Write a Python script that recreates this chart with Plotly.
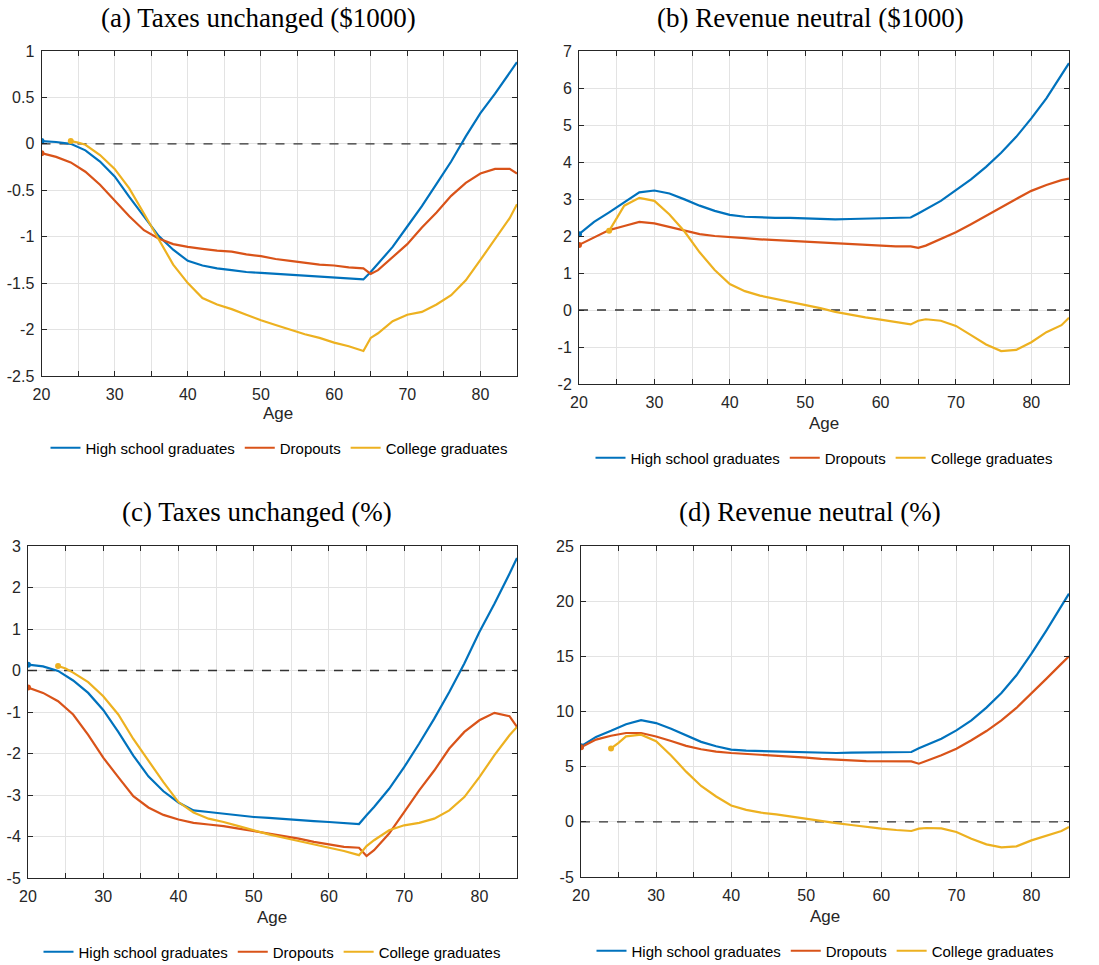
import plotly.graph_objects as go

# ---------------- data ----------------
AGES = [20, 22, 24, 26, 28, 30, 32, 34, 36, 38, 40, 42, 44, 46, 48, 50, 52, 54, 56, 58,
        60, 62, 64, 65, 66, 68, 70, 72, 74, 76, 78, 80, 82, 84, 85]
AGES_COL = [24, 25, 26, 28, 30, 32, 34, 36, 38, 40, 42, 44, 46, 48, 50, 52, 54, 56, 58,
            60, 62, 64, 65, 66, 68, 70, 72, 74, 76, 78, 80, 82, 84, 85]

# (a) Taxes unchanged ($1000)
HS_A = [0.03, 0.02, 0.0, -0.07, -0.19, -0.35, -0.57, -0.78, -0.99, -1.14, -1.26, -1.31, -1.34,
        -1.36, -1.38, -1.39, -1.40, -1.41, -1.42, -1.43, -1.44, -1.45, -1.46, -1.38, -1.29,
        -1.11, -0.89, -0.67, -0.43, -0.19, 0.08, 0.33, 0.54, 0.77, 0.88]
DO_A = [-0.10, -0.14, -0.20, -0.30, -0.44, -0.61, -0.78, -0.93, -1.02, -1.08, -1.11, -1.13,
        -1.15, -1.16, -1.19, -1.21, -1.24, -1.26, -1.28, -1.30, -1.31, -1.33, -1.34, -1.40,
        -1.36, -1.22, -1.08, -0.90, -0.74, -0.56, -0.42, -0.32, -0.27, -0.27, -0.32]
COL_A = [0.03, 0.015, -0.01, -0.12, -0.27, -0.48, -0.75, -1.03, -1.30, -1.50, -1.66, -1.73,
         -1.78, -1.84, -1.90, -1.95, -2.00, -2.05, -2.09, -2.14, -2.18, -2.23, -2.09, -2.04,
         -1.91, -1.84, -1.81, -1.73, -1.63, -1.47, -1.25, -1.02, -0.80, -0.65]

# (b) Revenue neutral ($1000)
HS_B = [2.05, 2.38, 2.64, 2.91, 3.18, 3.23, 3.15, 2.99, 2.82, 2.68, 2.57, 2.52, 2.50, 2.49,
        2.49, 2.47, 2.45, 2.45, 2.46, 2.47, 2.49, 2.50, 2.50, 2.61, 2.72, 2.95, 3.24, 3.53,
        3.87, 4.25, 4.68, 5.18, 5.72, 6.35, 6.67]
DO_B = [1.76, 1.96, 2.16, 2.27, 2.38, 2.34, 2.24, 2.13, 2.05, 2.00, 1.96, 1.94, 1.91, 1.89,
        1.86, 1.85, 1.81, 1.79, 1.77, 1.75, 1.73, 1.72, 1.72, 1.68, 1.74, 1.91, 2.10, 2.32,
        2.55, 2.79, 3.00, 3.22, 3.38, 3.51, 3.55]
COL_B = [2.14, 2.50, 2.82, 3.03, 2.95, 2.58, 2.12, 1.56, 1.08, 0.70, 0.51, 0.39, 0.31, 0.21,
         0.14, 0.05, -0.05, -0.13, -0.20, -0.26, -0.32, -0.39, -0.29, -0.25, -0.29, -0.43,
         -0.68, -0.93, -1.11, -1.08, -0.87, -0.60, -0.41, -0.21]

# (c) Taxes unchanged (%)
HS_C = [0.14, 0.10, -0.01, -0.24, -0.54, -0.95, -1.48, -2.05, -2.55, -2.91, -3.18, -3.37,
        -3.41, -3.45, -3.49, -3.53, -3.55, -3.58, -3.61, -3.63, -3.65, -3.68, -3.70, -3.49,
        -3.29, -2.85, -2.33, -1.76, -1.16, -0.52, 0.17, 0.93, 1.61, 2.33, 2.71]
DO_C = [-0.41, -0.54, -0.74, -1.06, -1.55, -2.10, -2.57, -3.03, -3.30, -3.48, -3.59, -3.67,
        -3.71, -3.75, -3.81, -3.87, -3.93, -3.99, -4.05, -4.13, -4.19, -4.25, -4.27, -4.47,
        -4.33, -3.93, -3.41, -2.89, -2.41, -1.88, -1.48, -1.20, -1.02, -1.10, -1.36]
COL_C = [0.11, 0.05, -0.05, -0.28, -0.62, -1.06, -1.65, -2.18, -2.69, -3.17, -3.42, -3.57,
         -3.65, -3.75, -3.85, -3.95, -4.03, -4.11, -4.20, -4.27, -4.35, -4.45, -4.23, -4.09,
         -3.85, -3.73, -3.67, -3.57, -3.37, -3.05, -2.57, -2.04, -1.56, -1.36]

# (d) Revenue neutral (%)
HS_D = [6.84, 7.70, 8.25, 8.85, 9.22, 8.95, 8.43, 7.83, 7.25, 6.85, 6.55, 6.45, 6.41, 6.39,
        6.36, 6.30, 6.27, 6.24, 6.27, 6.30, 6.30, 6.33, 6.33, 6.66, 6.93, 7.54, 8.29, 9.20,
        10.35, 11.68, 13.28, 15.24, 17.36, 19.62, 20.68]
DO_D = [6.75, 7.45, 7.80, 8.05, 8.05, 7.74, 7.32, 6.88, 6.58, 6.36, 6.24, 6.16, 6.09, 6.00,
        5.91, 5.82, 5.70, 5.61, 5.57, 5.51, 5.48, 5.45, 5.48, 5.27, 5.51, 6.03, 6.63, 7.39,
        8.23, 9.20, 10.32, 11.62, 12.98, 14.34, 15.00]
COL_D = [6.65, 7.15, 7.75, 7.90, 7.30, 6.02, 4.55, 3.25, 2.30, 1.48, 1.08, 0.83, 0.68, 0.47,
         0.29, 0.11, -0.11, -0.29, -0.47, -0.62, -0.74, -0.83, -0.62, -0.56, -0.59, -0.92,
         -1.53, -2.04, -2.31, -2.22, -1.68, -1.23, -0.83, -0.47]

SERIES_NAMES = ["High school graduates", "Dropouts", "College graduates"]
TITLES = ["(a) Taxes unchanged ($1000)", "(b) Revenue neutral ($1000)",
          "(c) Taxes unchanged (%)", "(d) Revenue neutral (%)"]
X_TICKS = [20, 25, 30, 35, 40, 45, 50, 55, 60, 65, 70, 75, 80, 85]
X_TICKTEXT = ["20", "", "30", "", "40", "", "50", "", "60", "", "70", "", "80", ""]
Y_TICKS_A = [-2.5, -2, -1.5, -1, -0.5, 0, 0.5, 1]
Y_TEXT_A = ["-2.5", "-2", "-1.5", "-1", "-0.5", "0", "0.5", "1"]
Y_TICKS_B = [-2, -1, 0, 1, 2, 3, 4, 5, 6, 7]
Y_TEXT_B = ["-2", "-1", "0", "1", "2", "3", "4", "5", "6", "7"]
Y_TICKS_C = [-5, -4, -3, -2, -1, 0, 1, 2, 3]
Y_TEXT_C = ["-5", "-4", "-3", "-2", "-1", "0", "1", "2", "3"]
Y_TICKS_D = [-5, 0, 5, 10, 15, 20, 25]
Y_TEXT_D = ["-5", "0", "5", "10", "15", "20", "25"]
X_RANGE = [20, 85]

COLORS = ["#0072BD", "#D95319", "#EDB120"]
W, H = 1099, 965

panels = [
    dict(data=[HS_A, DO_A, COL_A], yt=Y_TICKS_A, ytx=Y_TEXT_A,
         box=(41.5, 517, 51, 376), title=(258, 18), age=(278, 413), leg=(279, 448)),
    dict(data=[HS_B, DO_B, COL_B], yt=Y_TICKS_B, ytx=Y_TEXT_B,
         box=(579, 1069, 51, 384), title=(810, 18), age=(824, 423), leg=(824, 458)),
    dict(data=[HS_C, DO_C, COL_C], yt=Y_TICKS_C, ytx=Y_TEXT_C,
         box=(28, 517, 546, 878), title=(257, 512), age=(272, 917), leg=(272, 952)),
    dict(data=[HS_D, DO_D, COL_D], yt=Y_TICKS_D, ytx=Y_TEXT_D,
         box=(581, 1069, 546, 877), title=(810, 512), age=(825, 916), leg=(825, 951)),
]

fig = go.Figure()
layout = dict(width=W, height=H, margin=dict(l=0, r=0, t=0, b=0, pad=0, autoexpand=False),
              paper_bgcolor="white", plot_bgcolor="white",
              font=dict(family="Liberation Sans, Arial, sans-serif", size=16, color="#262626"),
              annotations=[])

for i, p in enumerate(panels):
    n = i + 1
    xa = "x" if n == 1 else f"x{n}"
    ya = "y" if n == 1 else f"y{n}"
    leg = "legend" if n == 1 else f"legend{n}"
    x0, x1, y0, y1 = p["box"]

    # zero reference line
    fig.add_trace(go.Scatter(x=X_RANGE, y=[0, 0], mode="lines", xaxis=xa, yaxis=ya,
                             line=dict(color="#333333", width=1.3, dash="dash"),
                             showlegend=False, hoverinfo="skip"))
    for k, (vals, name, col) in enumerate(zip(p["data"], SERIES_NAMES, COLORS)):
        ages = AGES_COL if k == 2 else AGES
        fig.add_trace(go.Scatter(x=ages, y=vals, mode="lines", name=name, xaxis=xa, yaxis=ya,
                                 line=dict(color=col, width=2.2), legend=leg))
    for k, (vals, col) in enumerate(zip(p["data"], COLORS)):
        ages = AGES_COL if k == 2 else AGES
        fig.add_trace(go.Scatter(x=ages[:1], y=vals[:1], mode="markers", xaxis=xa, yaxis=ya,
                                 marker=dict(color=col, size=6), showlegend=False))

    axcommon = dict(showline=True, linecolor="#262626", linewidth=1, mirror="ticks",
                    ticks="inside", ticklen=5, tickcolor="#262626", showgrid=True,
                    gridcolor="#e3e3e3", gridwidth=1, zeroline=False, automargin=False,
                    tickfont=dict(family="Liberation Sans, Arial, sans-serif", size=16,
                                  color="#262626"))
    layout["xaxis" if n == 1 else f"xaxis{n}"] = dict(
        axcommon, domain=[x0 / W, x1 / W], range=X_RANGE, tickmode="array",
        tickvals=X_TICKS, ticktext=X_TICKTEXT, anchor=ya, ticklabelstandoff=4)
    layout["yaxis" if n == 1 else f"yaxis{n}"] = dict(
        axcommon, domain=[1 - y1 / H, 1 - y0 / H], range=[p["yt"][0], p["yt"][-1]],
        tickmode="array", tickvals=p["yt"], ticktext=p["ytx"], anchor=xa,
        ticklabelstandoff=3)
    layout[leg] = dict(orientation="h", x=p["leg"][0] / W, y=1 - p["leg"][1] / H,
                       xanchor="center", yanchor="middle", bgcolor="rgba(0,0,0,0)",
                       font=dict(family="Liberation Sans, Arial, sans-serif", size=15,
                                 color="#000000"),
                       itemwidth=30, tracegroupgap=0)
    layout["annotations"].append(dict(
        text=TITLES[i], x=p["title"][0] / W, y=1 - p["title"][1] / H, xref="paper",
        yref="paper", showarrow=False, xanchor="center", yanchor="middle",
        font=dict(family="Liberation Serif, Times New Roman, serif", size=27, color="#000000")))
    layout["annotations"].append(dict(
        text="Age", x=p["age"][0] / W, y=1 - p["age"][1] / H, xref="paper", yref="paper",
        showarrow=False, xanchor="center", yanchor="middle",
        font=dict(family="Liberation Sans, Arial, sans-serif", size=17, color="#262626")))

fig.update_layout(**layout)
fig.write_html("out.html", config={"displayModeBar": False},
               post_script="document.body.style.margin='0';document.body.style.overflow='hidden';")
